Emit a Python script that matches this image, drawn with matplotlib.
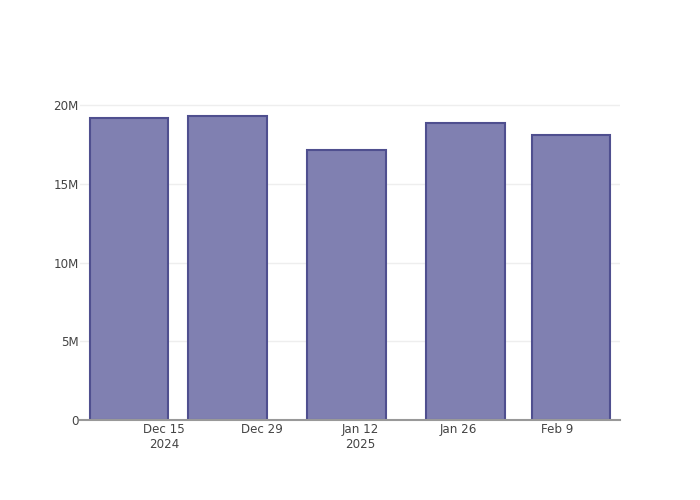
import datetime as dt
import matplotlib
matplotlib.use('Agg')
import matplotlib.pyplot as plt
import matplotlib.dates as mdates

# bar data
dates = [dt.date(2024, 12, 10), dt.date(2024, 12, 24), dt.date(2025, 1, 10),
         dt.date(2025, 1, 27), dt.date(2025, 2, 11)]
values = [19.17e6, 19.30e6, 17.14e6, 18.86e6, 18.10e6]

tick_dates = [dt.date(2024, 12, 15), dt.date(2024, 12, 29), dt.date(2025, 1, 12),
              dt.date(2025, 1, 26), dt.date(2025, 2, 9)]
tick_labels = ['Dec 15\n2024', 'Dec 29', 'Jan 12\n2025', 'Jan 26', 'Feb 9']
y_ticks = [0, 5e6, 10e6, 15e6, 20e6]
y_labels = ['0', '5M', '10M', '15M', '20M']

plt.rcParams['font.family'] = ['DejaVu Sans']
fig = plt.figure(figsize=(7, 5), dpi=100)
ax = fig.add_axes([80/700, 80/500, 540/700, 320/500])

ax.bar(dates, values, width=11.2, color='#8080b1', edgecolor='#4f4f8f',
       linewidth=1.5, zorder=3)

ax.set_xlim(dt.date(2024, 12, 3), dt.date(2025, 2, 18))
ax.set_ylim(0, 20.32e6)
ax.set_xticks(tick_dates)
ax.set_xticklabels(tick_labels)
ax.set_yticks(y_ticks)
ax.set_yticklabels(y_labels)
ax.tick_params(axis='both', length=0, labelsize=8.6, colors='#444444')
ax.tick_params(axis='x', pad=2.5)
ax.tick_params(axis='y', pad=1)
ax.grid(axis='y', color='#eeeeee', linewidth=1, zorder=0)
for s in ['top', 'right', 'left']:
    ax.spines[s].set_visible(False)
ax.spines['bottom'].set_color('#999999')
ax.spines['bottom'].set_linewidth(1.5)
ax.spines['bottom'].set_zorder(4)

fig.savefig('out.png', dpi=100)
